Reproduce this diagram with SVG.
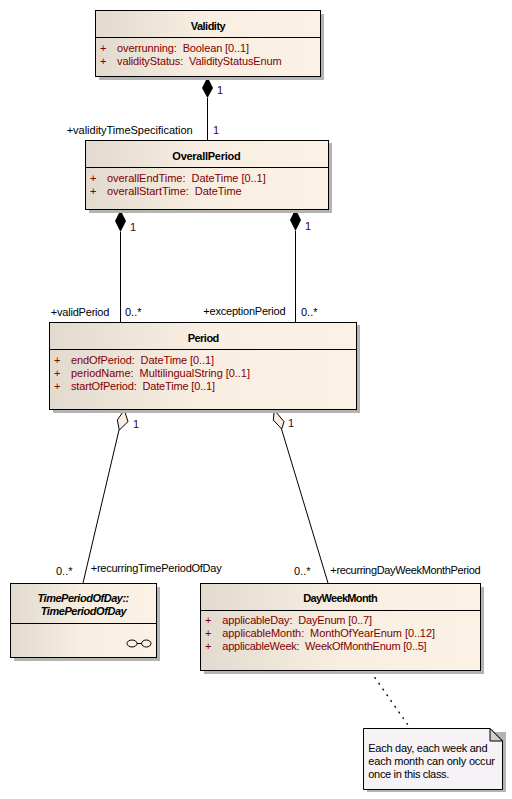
<svg xmlns="http://www.w3.org/2000/svg" width="512" height="799" viewBox="0 0 512 799">
<style>
text{font-family:"Liberation Sans",Arial,sans-serif;font-size:11px;fill:#000;white-space:pre}
.t{font-weight:bold;text-anchor:middle}
.i{font-style:italic}
.a{fill:#800000}
.m{fill:#400040}
.b{fill:url(#g);stroke:#000;stroke-width:1}
.s{fill:#b4b4b4}
.d{stroke:#000;stroke-width:1;fill:none}
.c{stroke:#000;stroke-width:1;fill:none}
</style>
<defs>
<linearGradient id="g" x1="0" y1="0" x2="1" y2="0"><stop offset="0" stop-color="#e2dace"/><stop offset="0.5" stop-color="#f8efe2"/><stop offset="1" stop-color="#fbf2e5"/></linearGradient>
</defs>
<rect width="512" height="799" fill="#fff"/>
<g id="connectors">
<path class="c" d="M207.500 98V140M120.500 232V322M295.500 231V322M119 430L83 583M281.500 429L328 583"/>
<path d="M207.500 77L213 88L207.500 98L202 88Z" fill="#000"/>
<path d="M120.500 210L126 221L120.500 232L115 221Z" fill="#000"/>
<path d="M295.500 209L301 220L295.500 231L290 220Z" fill="#000"/>
<path d="M124.300 410L128 421.700L119.300 430L117.300 420Z" fill="#f8efe2" stroke="#000"/>
<path d="M274.300 410L284 421.700L281.700 429L273.300 420Z" fill="#f8efe2" stroke="#000"/>
<path d="M370.500 671.500L408 725" stroke="#000" stroke-width="1.300" stroke-dasharray="2 5" fill="none"/>
<text x="217" y="94" class="m">1</text>
<text x="66.700" y="134" textLength="126">+validityTimeSpecification</text>
<text x="213" y="134" class="m">1</text>
<text x="130" y="231" class="m">1</text>
<text x="305" y="230" class="m">1</text>
<text x="50.700" y="316" textLength="58.700">+validPeriod</text>
<text x="125" y="316">0..*</text>
<text x="203.300" y="315" textLength="82.300">+exceptionPeriod</text>
<text x="301" y="316">0..*</text>
<text x="133" y="428" class="m">1</text>
<text x="288" y="427" class="m">1</text>
<text x="56" y="575">0..*</text>
<text x="90.700" y="572" textLength="131">+recurringTimePeriodOfDay</text>
<text x="294" y="575">0..*</text>
<text x="330.300" y="574" textLength="150.300">+recurringDayWeekMonthPeriod</text>
</g>
<g id="Validity">
<rect class="s" x="99" y="14" width="225" height="66"/>
<rect class="b" x="95.500" y="10.500" width="225" height="66"/>
<path class="d" d="M96 37.500H320"/>
<text class="t" x="208.200" y="30" textLength="35">Validity</text>
<text class="a" x="100" y="52">+</text><text class="a" x="117" y="52" textLength="132">overrunning:  Boolean [0..1]</text>
<text class="a" x="100" y="65">+</text><text class="a" x="117" y="65" textLength="164.700">validityStatus:  ValidityStatusEnum</text>
</g>
<g id="OverallPeriod">
<rect class="s" x="89" y="143" width="243" height="70"/>
<rect class="b" x="85.500" y="140.500" width="243" height="69"/>
<path class="d" d="M86 167.500H328"/>
<text class="t" x="206.500" y="160" textLength="68.300">OverallPeriod</text>
<text class="a" x="90" y="182">+</text><text class="a" x="107" y="182" textLength="158.700">overallEndTime:  DateTime [0..1]</text>
<text class="a" x="90" y="195">+</text><text class="a" x="107" y="195" textLength="134.700">overallStartTime:  DateTime</text>
</g>
<g id="Period">
<rect class="s" x="53" y="325" width="307" height="88"/>
<rect class="b" x="49.500" y="322.500" width="307" height="87"/>
<path class="d" d="M50 349.500H356"/>
<text class="t" x="203.500" y="342" textLength="31.700">Period</text>
<text class="a" x="54" y="364">+</text><text class="a" x="71" y="364" textLength="143">endOfPeriod:  DateTime [0..1]</text>
<text class="a" x="54" y="377">+</text><text class="a" x="71" y="377" textLength="179">periodName:  MultilingualString [0..1]</text>
<text class="a" x="54" y="390">+</text><text class="a" x="71" y="390" textLength="144">startOfPeriod:  DateTime [0..1]</text>
</g>
<g id="TimePeriodOfDay">
<rect class="s" x="14" y="587" width="146" height="74"/>
<rect class="b" x="10.500" y="583.500" width="146" height="74"/>
<path class="d" d="M11 623.500H156"/>
<text class="t i" x="83.400" y="602" textLength="91.700">TimePeriodOfDay::</text>
<text class="t i" x="83.700" y="615" textLength="86">TimePeriodOfDay</text>
<ellipse class="d" cx="132" cy="643.500" rx="5" ry="3.500"/>
<ellipse class="d" cx="146.300" cy="643.500" rx="4.700" ry="3.500"/>
<path class="d" d="M137 643.500H141.500"/>
</g>
<g id="DayWeekMonth">
<rect class="s" x="204" y="587" width="280" height="87"/>
<rect class="b" x="200.500" y="583.500" width="280" height="87"/>
<path class="d" d="M201 610.500H480"/>
<text class="t" x="340.500" y="602" textLength="74.300">DayWeekMonth</text>
<text class="a" x="205" y="624">+</text><text class="a" x="222.300" y="624" textLength="149.700">applicableDay:  DayEnum [0..7]</text>
<text class="a" x="205" y="637">+</text><text class="a" x="222.300" y="637" textLength="212.700">applicableMonth:  MonthOfYearEnum [0..12]</text>
<text class="a" x="205" y="650">+</text><text class="a" x="222.300" y="650" textLength="204.300">applicableWeek:  WeekOfMonthEnum [0..5]</text>
</g>
<g id="Note">
<path class="s" d="M367 732H506V792H367Z"/>
<path d="M363.500 728.500H490L502.500 741V789.500H363.500Z" fill="#f6f2f6" stroke="#000"/>
<path d="M490 728.500L502.500 741H490Z" fill="#cfcfcf" stroke="#000"/>
<text x="368.300" y="752" textLength="119.300">Each day, each week and</text>
<text x="368.300" y="765" textLength="126.700">each month can only occur</text>
<text x="368.300" y="778" textLength="81">once in this class.</text>
</g>
</svg>
